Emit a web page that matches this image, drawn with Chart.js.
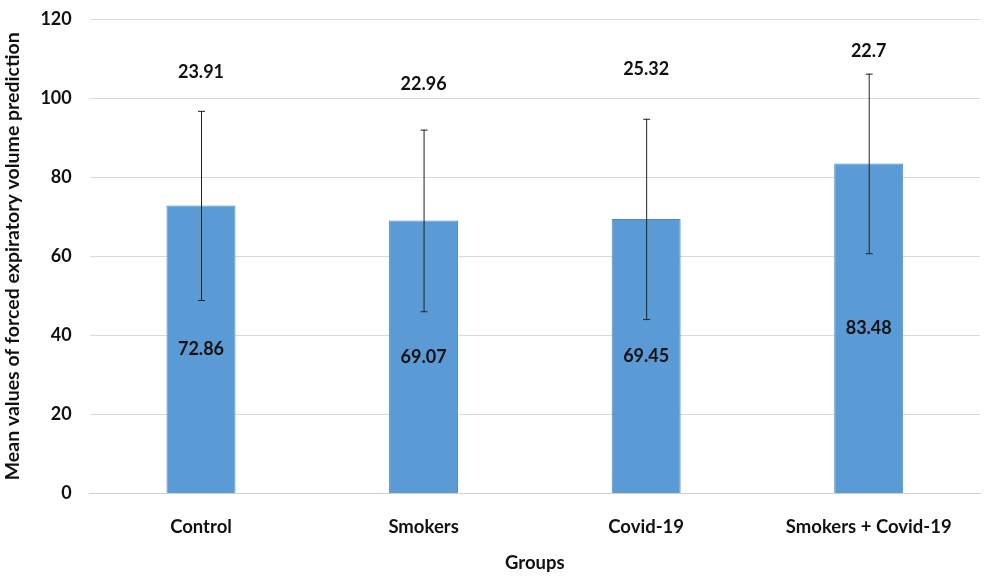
<!DOCTYPE html>
<html lang="en">
<head>
    <meta charset="UTF-8">
    <title>Mean FEV prediction by group</title>
    <script src="https://cdn.jsdelivr.net/npm/chart.js"></script>
    <style>
        html, body { margin: 0; padding: 0; background: #fff; }
    </style>
</head>
<body>
    <canvas id="chart" width="986" height="579"></canvas>

    <script>
        const groups = ['Control', 'Smokers', 'Covid-19', 'Smokers + Covid-19'];
        const means = [72.86, 69.07, 69.45, 83.48];
        const sds = [23.91, 22.96, 25.32, 22.7];
        const yTicks = [0, 20, 40, 60, 80, 100, 120];

        // pixel gap between error bar top and the SD label (Excel labels were placed by hand)
        const sdLabelGap = [39, 45, 50, 22];

        const FONT = 'Lato, "Open Sans", sans-serif';

        const errorBars = {
            id: 'errorBars',
            afterDatasetsDraw(chart) {
                const ctx = chart.ctx;
                const y = chart.scales.y;
                const meta = chart.getDatasetMeta(0);
                ctx.save();
                meta.data.forEach((bar, i) => {
                    const top = y.getPixelForValue(means[i] + sds[i]);
                    const bot = y.getPixelForValue(means[i] - sds[i]);
                    ctx.strokeStyle = '#222';
                    ctx.lineWidth = 1;
                    ctx.beginPath();
                    ctx.moveTo(bar.x + 0.5, top);
                    ctx.lineTo(bar.x + 0.5, bot);
                    ctx.moveTo(bar.x - 3, top + 0.5);
                    ctx.lineTo(bar.x + 4, top + 0.5);
                    ctx.moveTo(bar.x - 3, bot + 0.5);
                    ctx.lineTo(bar.x + 4, bot + 0.5);
                    ctx.stroke();

                    ctx.fillStyle = '#111';
                    ctx.font = 'bold 18px ' + FONT;
                    ctx.textAlign = 'center';
                    ctx.textBaseline = 'middle';
                    ctx.fillText(String(sds[i]), bar.x, top - sdLabelGap[i]);
                    const mid = y.getPixelForValue(means[i] / 2);
                    ctx.fillText(String(means[i]), bar.x, mid);
                });
                ctx.restore();
            }
        };

        const ctx = document.getElementById('chart').getContext('2d');
        new Chart(ctx, {
            type: 'bar',
            data: {
                labels: groups,
                datasets: [{
                    data: means,
                    backgroundColor: '#5b9bd5',
                    borderColor: '#4a8bc8',
                    borderWidth: 1,
                    barPercentage: 0.31,
                    categoryPercentage: 1
                }]
            },
            options: {
                responsive: false,
                animation: false,
                layout: { padding: { left: 1, right: 6, top: 19, bottom: 5 } },
                plugins: {
                    legend: { display: false },
                    tooltip: { enabled: false }
                },
                scales: {
                    x: {
                        grid: { display: false, drawTicks: false },
                        border: { color: '#d0d0d0' },
                        ticks: {
                            color: '#111',
                            padding: 22,
                            font: { family: FONT, size: 18.5, weight: 'bold' }
                        },
                        title: {
                            display: true,
                            text: 'Groups',
                            color: '#111',
                            padding: { top: -8, bottom: 0 },
                            font: { family: FONT, size: 18.5, weight: 'bold' }
                        }
                    },
                    y: {
                        min: 0,
                        max: 120,
                        afterBuildTicks(axis) {
                            axis.ticks = yTicks.map(v => ({ value: v }));
                        },
                        afterFit(axis) {
                            axis.paddingTop = 0;
                        },
                        grid: { color: '#d9d9d9', drawTicks: false },
                        border: { display: false },
                        ticks: {
                            color: '#111',
                            padding: 18,
                            font: { family: FONT, size: 18, weight: 'bold' }
                        },
                        title: {
                            display: true,
                            text: 'Mean values of forced expiratory volume prediction',
                            color: '#111',
                            padding: { top: 0, bottom: -2 },
                            font: { family: FONT, size: 19.5, weight: 'bold' }
                        }
                    }
                }
            },
            plugins: [errorBars]
        });
    </script>
</body>
</html>
